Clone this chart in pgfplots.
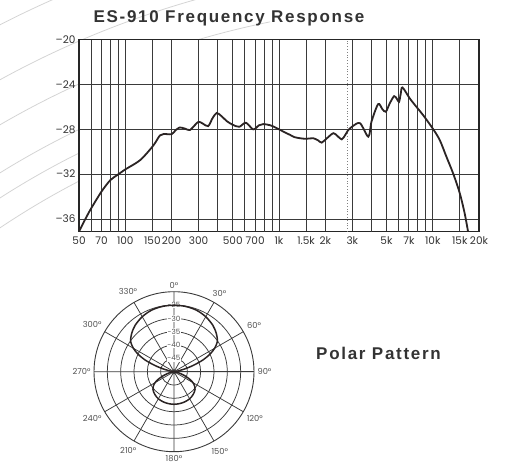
\documentclass[border=0pt]{standalone}
\usepackage{pgfplots}
\pgfplotsset{compat=1.18}
\usepgfplotslibrary{polar}
\usepackage{fontspec}
\setmainfont{Poppins}
\newfontfamily\titlefont[LetterSpace=10]{Liberation Sans}
\definecolor{txt}{HTML}{333333}
\definecolor{gridc}{HTML}{3A3A3A}
\definecolor{curve}{HTML}{2B2424}
\definecolor{deco}{HTML}{D4D4D4}
\begin{document}
\begin{tikzpicture}[x=1pt,y=1pt]
\path[use as bounding box] (0,0) rectangle (523,467);
\begin{scope}
\clip (0,232) rectangle (270,467);
\foreach \r in {983.9,935.4,896.2,855,833.8,808.8} {\draw[deco, line width=0.8pt] (450,-433) circle[radius=\r];}
\end{scope}
\node[font=\titlefont\bfseries\fontsize{17}{20}\selectfont, text=txt] at (229,448.7) {ES-910 Frequency Response};
\node[font=\titlefont\bfseries\fontsize{17}{20}\selectfont, text=txt] at (378.5,113.7) {Polar Pattern};
\begin{axis}[
  at={(79pt,235.3pt)}, anchor=south west,
  width=400pt, height=192.2pt, scale only axis,
  xmode=log,
  xmin=50, xmax=20000, ymin=-37.13, ymax=-20,
  xtick={50,70,100,150,200,300,500,700,1000,1500,2000,3000,5000,7000,10000,15000,20000},
  xticklabels={50,70,100,150,200,300,500,700,1k,1.5k,2k,3k,5k,7k,10k,15k,20k},
  extra x ticks={60,80,90,400,600,800,900,4000,6000,8000,9000},
  extra x tick labels={},
  extra x tick style={grid=major},
  ytick={-36,-32,-28,-24,-20},
  yticklabels={–36,–32,–28,–24,–20},
  xmajorgrids, ymajorgrids,
  major grid style={gridc, line width=0.85pt},
  major tick length=0pt, minor tick length=0pt,
  axis line style={black!85, line width=1.1pt},
  axis background/.style={fill=white},
  tick label style={font=\fontsize{10.5}{12}\selectfont, text=txt},
  xticklabel style={yshift=-1.5pt},
  clip=true,
]
\addplot[gray, dotted, line width=0.8pt] coordinates {(2800,-37.13) (2800,-20)};
\addplot[curve, line width=1.8pt, smooth, tension=0.5] coordinates {
(50,-37.13) (55,-36.0) (60,-35.05) (70,-33.56) (80,-32.53) (90,-32.02) (100,-31.58)
(125,-30.75) (150,-29.56) (160,-29.0) (168,-28.55) (178,-28.42) (200,-28.44)
(212,-28.1) (226,-27.84) (245,-27.95) (263,-28.07) (285,-27.6) (300,-27.33)
(320,-27.5) (346,-27.72) (370,-27.0) (393,-26.55) (420,-26.8) (460,-27.3)
(500,-27.6) (551,-27.78) (609,-27.42) (680,-28.01) (740,-27.65) (789,-27.54)
(880,-27.65) (1000,-28.0) (1080,-28.25) (1180,-28.5) (1260,-28.7) (1371,-28.8)
(1500,-28.85) (1672,-28.8) (1800,-29.0) (1896,-29.19) (2050,-28.8) (2257,-28.35)
(2400,-28.6) (2559,-28.9) (2700,-28.5) (2812,-28.1) (3000,-27.75) (3366,-27.46)
(3813,-28.66) (4000,-27.3) (4415,-25.76) (4700,-26.2) (4952,-26.44) (5250,-25.7)
(5608,-25.05) (5850,-25.3) (6043,-25.55) (6200,-24.8) (6354,-24.27) (7090,-25.25)
(7832,-26.0) (8659,-26.74) (10000,-27.93) (11110,-28.96) (12277,-30.45)
(13570,-31.93) (15000,-33.71) (16140,-35.5) (16980,-37.13)
};
\end{axis}
% radial value r = level + 50 dB  (centre = -50 dB, outer ring = -20 dB)
\begin{polaraxis}[
  at={(174pt,95.3pt)}, anchor=center,
  width=160pt, height=160pt, scale only axis,
  ymin=0, ymax=30,
  xtick={0,30,...,330},
  xticklabels={90°,60°,30°,0°,330°,300°,270°,240°,210°,180°,150°,120°},
  ytick={5,10,15,20,25},
  yticklabels={},
  grid=major,
  major grid style={gridc, line width=0.75pt},
  axis line style={gridc, line width=0.9pt},
  major tick length=0pt, minor tick length=0pt,
  xticklabel style={font=\fontsize{8.3}{9}\selectfont, text=txt!85},
]
\node[fill=white, inner sep=0.6pt, font=\fontsize{7.2}{8}\selectfont, text=txt!85] at (axis cs:90,25) {-25};
\node[fill=white, inner sep=0.6pt, font=\fontsize{7.2}{8}\selectfont, text=txt!85] at (axis cs:90,20) {-30};
\node[fill=white, inner sep=0.6pt, font=\fontsize{7.2}{8}\selectfont, text=txt!85] at (axis cs:90,15) {-35};
\node[fill=white, inner sep=0.6pt, font=\fontsize{7.2}{8}\selectfont, text=txt!85] at (axis cs:90,10) {-40};
\node[fill=white, inner sep=0.6pt, font=\fontsize{7.2}{8}\selectfont, text=txt!85] at (axis cs:90,5) {-45};
\addplot[curve, line width=1.5pt, smooth] coordinates {
(175,0) (170,1.1) (166,3.75) (162,7.5) (158,11.62) (154,15.0) (150,17.62)
(145,19.87) (138,21.37) (130,22.69) (120,23.81) (110,24.56) (100,24.86) (90,24.94)
(80,24.86) (70,24.56) (60,23.81) (50,22.69) (42,21.37) (35,19.87) (30,17.62)
(26,15.0) (22,11.62) (18,7.5) (14,3.75) (10,1.1) (5,0)
};
\addplot[curve, line width=1.5pt, smooth] coordinates {
(-2,0) (-8,0.4) (-14,1.87) (-20,4.12) (-26,6.75) (-32,8.81) (-40,10.31)
(-50,11.17) (-60,11.74) (-70,12.0) (-80,12.15) (-90,12.22) (-100,12.15) (-110,12.0)
(-120,11.74) (-130,11.17) (-140,10.31) (-148,8.81) (-154,6.75) (-160,4.12)
(-166,1.87) (-172,0.4) (-178,0)
};
\end{polaraxis}
\end{tikzpicture}
\end{document}
